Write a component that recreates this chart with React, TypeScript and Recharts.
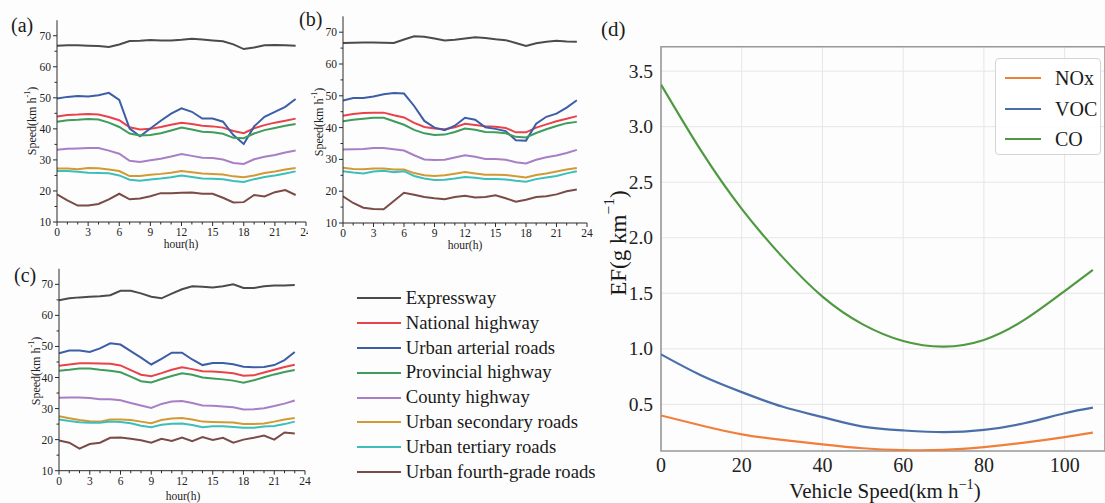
import React from 'react';
import { LineChart, Line, XAxis, YAxis, CartesianGrid, Legend, ReferenceArea } from 'recharts';

const SERIF = '"Liberation Serif", "Times New Roman", serif';
const AXIS = '#2a2a2a';

// ---------- hours ----------
const hours = [0, 1, 2, 3, 4, 5, 6, 7, 8, 9, 10, 11, 12, 13, 14, 15, 16, 17, 18, 19, 20, 21, 22, 23];
const hourTicks = [0, 1, 2, 3, 4, 5, 6, 7, 8, 9, 10, 11, 12, 13, 14, 15, 16, 17, 18, 19, 20, 21, 22, 23, 24];
const speedTicks = [10, 15, 20, 25, 30, 35, 40, 45, 50, 55, 60, 65, 70];

const roadNames = [
  'Expressway',
  'National highway',
  'Urban arterial roads',
  'Provincial highway',
  'County highway',
  'Urban secondary roads',
  'Urban tertiary roads',
  'Urban fourth-grade roads',
];
const roadKeys = ['exp', 'nat', 'art', 'prov', 'cnty', 'sec', 'ter', 'fourth'];
const roadColors = ['#4f4a4a', '#e8434a', '#3c5ea8', '#3e9c5c', '#a77fc6', '#d19a34', '#3cbfbb', '#7b4b47'];

// ---------- panel (a) ----------
const aExpressway = [66.8, 66.9, 66.9, 66.8, 66.7, 66.4, 67.2, 68.3, 68.4, 68.6, 68.5, 68.5, 68.7, 69.0, 68.8, 68.5, 68.2, 67.2, 65.7, 66.2, 66.9, 67.0, 66.9, 66.8];
const aNational = [44.0, 44.5, 44.6, 44.8, 44.6, 43.8, 42.8, 40.5, 39.8, 40.0, 40.6, 41.3, 42.0, 41.6, 41.0, 40.8, 40.4, 39.3, 38.6, 40.2, 41.2, 42.0, 42.6, 43.3];
const aArterial = [49.8, 50.3, 50.6, 50.4, 50.8, 51.6, 49.3, 40.1, 37.6, 40.1, 42.6, 44.9, 46.6, 45.5, 43.3, 43.3, 42.3, 38.0, 35.1, 40.8, 43.9, 45.5, 47.1, 49.6];
const aProvincial = [42.3, 42.8, 42.9, 43.2, 43.0, 42.0, 40.6, 38.5, 37.9, 38.0, 38.6, 39.5, 40.4, 39.8, 39.1, 38.9, 38.4, 37.1, 37.0, 38.5, 39.6, 40.3, 41.0, 41.6];
const aCounty = [33.3, 33.6, 33.7, 33.8, 33.8, 33.0, 32.0, 29.7, 29.3, 29.9, 30.4, 31.1, 31.9, 31.3, 30.7, 30.6, 30.1, 29.0, 28.7, 30.2, 31.0, 31.6, 32.4, 33.0];
const aSecondary = [27.2, 27.2, 27.0, 27.4, 27.3, 26.9, 26.4, 24.8, 24.8, 25.2, 25.5, 25.9, 26.4, 26.0, 25.6, 25.5, 25.3, 24.7, 24.4, 25.0, 25.8, 26.3, 26.9, 27.4];
const aTertiary = [26.4, 26.4, 26.2, 25.9, 25.8, 25.7, 25.0, 23.6, 23.3, 23.7, 24.0, 24.4, 25.0, 24.5, 24.0, 23.9, 23.8, 23.2, 22.9, 23.8, 24.5, 25.0, 25.6, 26.3];
const aFourth = [18.9, 17.0, 15.3, 15.3, 15.8, 17.3, 19.1, 17.3, 17.6, 18.3, 19.3, 19.3, 19.4, 19.5, 19.1, 19.1, 17.8, 16.3, 16.4, 18.7, 18.2, 19.6, 20.3, 18.7];

// ---------- panel (b) ----------
const bExpressway = [66.6, 66.7, 66.8, 66.8, 66.7, 66.6, 67.7, 68.7, 68.6, 68.0, 67.4, 67.6, 68.0, 68.4, 68.2, 67.8, 67.5, 66.6, 65.7, 66.5, 67.0, 67.3, 67.1, 67.0];
const bNational = [43.7, 44.3, 44.6, 44.7, 44.7, 43.9, 43.2, 41.5, 40.2, 39.7, 39.5, 40.1, 41.2, 40.8, 40.4, 40.3, 39.9, 38.5, 38.5, 40.0, 41.0, 42.0, 42.8, 43.6];
const bArterial = [48.5, 49.3, 49.3, 49.8, 50.5, 50.9, 50.7, 46.8, 42.1, 40.0, 39.2, 40.6, 43.1, 42.5, 40.1, 39.6, 38.9, 36.0, 35.9, 41.2, 43.4, 44.4, 46.3, 48.6];
const bProvincial = [42.0, 42.5, 42.8, 43.1, 43.1, 42.0, 40.9, 39.3, 38.2, 37.7, 37.8, 38.6, 39.7, 39.3, 38.6, 38.5, 38.2, 37.1, 36.9, 38.3, 39.5, 40.5, 41.4, 41.8];
const bCounty = [33.1, 33.2, 33.3, 33.6, 33.6, 33.2, 32.8, 31.3, 30.0, 29.8, 29.9, 30.6, 31.3, 30.8, 30.1, 30.1, 29.9, 29.1, 28.7, 29.9, 30.7, 31.2, 32.0, 33.0];
const bSecondary = [27.4, 27.0, 26.9, 27.1, 27.1, 26.8, 26.8, 25.7, 25.0, 24.8, 25.0, 25.5, 26.0, 25.6, 25.2, 25.2, 25.1, 24.7, 24.3, 25.1, 25.6, 26.2, 26.8, 27.3];
const bTertiary = [26.3, 25.9, 25.6, 26.2, 26.4, 26.0, 26.3, 24.8, 24.0, 23.5, 23.6, 24.0, 24.5, 24.2, 23.8, 23.8, 23.7, 23.3, 23.0, 23.8, 24.3, 24.8, 25.6, 26.3];
const bFourth = [18.4, 16.3, 14.8, 14.4, 14.3, 16.9, 19.5, 18.9, 18.2, 17.8, 17.5, 18.2, 18.6, 18.0, 18.2, 18.7, 17.8, 16.7, 17.3, 18.2, 18.4, 19.0, 20.0, 20.5];

// ---------- panel (c) ----------
const cExpressway = [64.9, 65.5, 65.8, 66.0, 66.2, 66.5, 67.9, 67.9, 67.1, 66.0, 65.5, 67.0, 68.4, 69.4, 69.2, 69.0, 69.4, 70.0, 68.8, 68.8, 69.4, 69.6, 69.6, 69.8];
const cNational = [43.8, 44.2, 44.6, 44.6, 44.5, 44.4, 43.9, 42.4, 40.9, 40.4, 41.4, 42.5, 43.3, 42.7, 42.0, 41.9, 41.7, 41.4, 40.6, 40.7, 41.6, 42.5, 43.4, 44.1];
const cArterial = [47.8, 48.7, 48.7, 48.2, 49.4, 51.0, 50.6, 48.5, 46.4, 44.2, 46.0, 48.0, 48.0, 45.8, 44.0, 44.7, 44.7, 44.3, 43.5, 43.3, 43.4, 44.0, 45.6, 48.2];
const cProvincial = [42.2, 42.5, 42.9, 42.9, 42.5, 42.2, 41.7, 40.3, 38.8, 38.4, 39.5, 40.5, 41.4, 40.9, 40.0, 39.7, 39.4, 39.0, 38.3, 39.1, 40.1, 41.0, 41.8, 42.4];
const cCounty = [33.5, 33.6, 33.6, 33.4, 33.0, 33.0, 32.7, 31.8, 31.0, 30.2, 31.5, 32.3, 32.4, 31.8, 31.0, 30.9, 30.7, 30.4, 29.7, 29.8, 30.1, 30.8, 31.6, 32.6];
const cSecondary = [27.5, 26.9, 26.3, 25.9, 25.8, 26.5, 26.5, 26.3, 25.8, 25.3, 26.3, 26.8, 27.0, 26.5, 25.8, 25.7, 25.6, 25.5, 25.0, 25.0, 25.2, 25.8, 26.5, 27.0];
const cTertiary = [26.5, 26.0, 25.6, 25.4, 25.4, 25.8, 25.7, 25.3, 24.5, 24.0, 24.8, 25.1, 25.2, 24.7, 24.0, 24.3, 24.3, 24.1, 23.8, 23.8, 24.2, 24.4, 25.0, 25.8];
const cFourth = [19.7, 19.0, 17.1, 18.6, 19.0, 20.6, 20.7, 20.3, 19.8, 19.0, 20.3, 19.6, 20.7, 19.5, 20.8, 19.9, 20.6, 19.0, 20.0, 20.6, 21.3, 20.0, 22.3, 22.0];

// ---------- panel (d) ----------
const vehicleSpeed = [0, 10, 20, 30, 40, 50, 60, 70, 80, 90, 100, 107];
const efNOx = [0.40, 0.31, 0.23, 0.18, 0.14, 0.105, 0.088, 0.09, 0.115, 0.155, 0.205, 0.245];
const efVOC = [0.95, 0.76, 0.61, 0.48, 0.385, 0.30, 0.265, 0.25, 0.27, 0.33, 0.42, 0.47];
const efCO = [3.38, 2.78, 2.26, 1.83, 1.47, 1.22, 1.07, 1.02, 1.08, 1.26, 1.52, 1.71];
const speedAxisTicks = [0, 20, 40, 60, 80, 100];
const efTicks = [0.5, 1.0, 1.5, 2.0, 2.5, 3.0, 3.5];
const pollutantNames = ['NOx', 'VOC', 'CO'];
const pollutantColors = ['#f07f3a', '#4a6fa8', '#4f9a40'];

const buildRoadRows = (series: number[][]) =>
  hours.map((h, i) => {
    const row: Record<string, number> = { hour: h };
    roadKeys.forEach((k, j) => {
      row[k] = series[j][i];
    });
    return row;
  });

const dataA = buildRoadRows([aExpressway, aNational, aArterial, aProvincial, aCounty, aSecondary, aTertiary, aFourth]);
const dataB = buildRoadRows([bExpressway, bNational, bArterial, bProvincial, bCounty, bSecondary, bTertiary, bFourth]);
const dataC = buildRoadRows([cExpressway, cNational, cArterial, cProvincial, cCounty, cSecondary, cTertiary, cFourth]);

const dataD = vehicleSpeed.map((v, i) => ({ v, NOx: efNOx[i], VOC: efVOC[i], CO: efCO[i] }));

// ---------- ticks ----------
const HourTick = (props: any) => {
  const { x, y, payload } = props;
  const v = payload.value;
  const major = v % 3 === 0;
  return (
    <g>
      <line x1={x} x2={x} y1={y} y2={y + (major ? 4 : 2.5)} stroke={AXIS} strokeWidth={1} />
      {major && (
        <text x={x} y={y + 14} textAnchor="middle" fontSize={11.5} fill="#222" fontFamily={SERIF}>
          {v}
        </text>
      )}
    </g>
  );
};

const SpeedTick = (props: any) => {
  const { x, y, payload } = props;
  const v = payload.value;
  const major = v % 10 === 0;
  return (
    <g>
      <line x1={x - (major ? 4 : 2.5)} x2={x} y1={y} y2={y} stroke={AXIS} strokeWidth={1} />
      {major && (
        <text x={x - 6} y={y + 4} textAnchor="end" fontSize={11.5} fill="#222" fontFamily={SERIF}>
          {v}
        </text>
      )}
    </g>
  );
};

const VSpeedTick = (props: any) => {
  const { x, y, payload } = props;
  return (
    <text x={x} y={y + 21} textAnchor="middle" fontSize={20} fill="#222" fontFamily={SERIF}>
      {payload.value}
    </text>
  );
};

const EFTick = (props: any) => {
  const { x, y, payload } = props;
  return (
    <text x={x - 8} y={y + 6.5} textAnchor="end" fontSize={19.5} fill="#222" fontFamily={SERIF}>
      {Number(payload.value).toFixed(1)}
    </text>
  );
};

const RoadLegend = () => (
  <div style={{ fontFamily: SERIF, fontSize: 18.7, color: '#1a1a1a' }}>
    {roadNames.map((n, i) => (
      <div key={n} style={{ display: 'flex', alignItems: 'center', height: 24.8, whiteSpace: 'nowrap' }}>
        <svg width={44} height={4} style={{ display: 'block' }}>
          <line x1={0} x2={44} y1={2} y2={2} stroke={roadColors[i]} strokeWidth={2} />
        </svg>
        <span style={{ marginLeft: 5, lineHeight: '24.8px' }}>{n}</span>
      </div>
    ))}
  </div>
);

const PollutantLegend = () => (
  <div
    style={{
      width: 106,
      height: 97,
      border: '1px solid #d4d4d4',
      borderRadius: 4,
      background: 'rgba(255,255,255,0.85)',
      fontFamily: SERIF,
      fontSize: 20,
      color: '#1a1a1a',
      boxSizing: 'border-box',
      paddingTop: 4,
    }}
  >
    {pollutantNames.map((n, i) => (
      <div key={n} style={{ display: 'flex', alignItems: 'center', height: 30.5 }}>
        <svg width={48} height={4} style={{ display: 'block' }}>
          <line x1={9} x2={45} y1={2} y2={2} stroke={pollutantColors[i]} strokeWidth={2.2} />
        </svg>
        <span style={{ marginLeft: 11, lineHeight: '30px' }}>{n}</span>
      </div>
    ))}
  </div>
);

type PanelProps = {
  data: Record<string, number>[];
  width: number;
  height: number;
  margin: { top: number; right: number; bottom: number; left: number };
  yWidth: number;
  withLegend?: boolean;
};

const SpeedPanel = ({ data, width, height, margin, yWidth, withLegend }: PanelProps) => (
  <LineChart width={width} height={height} data={data} margin={margin}>
    <XAxis
      dataKey="hour"
      type="number"
      domain={[0, 24]}
      ticks={hourTicks}
      interval={0}
      allowDataOverflow
      height={30}
      tickSize={0}
      tickMargin={0}
      tickLine={false}
      axisLine={{ stroke: AXIS, strokeWidth: 1 }}
      tick={<HourTick />}
    />
    <YAxis
      type="number"
      domain={[10, 75]}
      ticks={speedTicks}
      interval={0}
      allowDataOverflow
      width={yWidth}
      tickSize={0}
      tickMargin={0}
      tickLine={false}
      axisLine={{ stroke: AXIS, strokeWidth: 1 }}
      tick={<SpeedTick />}
    />
    {roadKeys.map((k, i) => (
      <Line
        key={k}
        dataKey={k}
        name={roadNames[i]}
        type="linear"
        stroke={roadColors[i]}
        strokeWidth={2}
        dot={false}
        activeDot={false}
        isAnimationActive={false}
      />
    ))}
    {withLegend && (
      <Legend
        layout="vertical"
        align="center"
        verticalAlign="middle"
        content={<RoadLegend />}
        wrapperStyle={{ left: 356.7, top: 36, width: 260, height: 200 }}
      />
    )}
  </LineChart>
);

const Sup = ({ children, size }: { children: React.ReactNode; size: number }) => (
  <tspan dy={-size * 0.45} fontSize={size * 0.68}>
    {children}
  </tspan>
);

const App = () => (
  <div style={{ position: 'absolute', left: 0, top: 0, width: 1105, height: 503, background: '#fdfdfd', overflow: 'hidden' }}>
    {/* panel (a) */}
    <div style={{ position: 'absolute', left: 0, top: 0, width: 308, height: 260, overflow: 'hidden' }}>
      <SpeedPanel data={dataA} width={320} height={260} margin={{ top: 20.2, right: 14, bottom: 8, left: 0 }} yWidth={57} />
    </div>
    {/* panel (b) */}
    <div style={{ position: 'absolute', left: 290, top: 0, width: 310, height: 260 }}>
      <SpeedPanel data={dataB} width={310} height={260} margin={{ top: 16.3, right: 13, bottom: 7, left: 0 }} yWidth={53} />
    </div>
    {/* panel (c) with legend */}
    <div style={{ position: 'absolute', left: 0, top: 250, width: 620, height: 253 }}>
      <SpeedPanel data={dataC} width={620} height={253} margin={{ top: 18.8, right: 315, bottom: 2.3, left: 0 }} yWidth={59} withLegend />
    </div>
    {/* panel (d) */}
    <div style={{ position: 'absolute', left: 590, top: 0, width: 515, height: 503 }}>
      <LineChart width={515} height={503} data={dataD} margin={{ top: 46.7, right: 0, bottom: 0, left: 0 }}>
        <CartesianGrid stroke="#e6e6e6" strokeWidth={1} />
        <XAxis
          dataKey="v"
          type="number"
          domain={[0, 110]}
          ticks={speedAxisTicks}
          interval={0}
          allowDataOverflow
          height={52}
          tickSize={0}
          tickMargin={0}
          tickLine={false}
          axisLine={false}
          tick={<VSpeedTick />}
        />
        <YAxis
          type="number"
          domain={[0.08, 3.72]}
          ticks={efTicks}
          interval={0}
          allowDataOverflow
          width={71}
          tickSize={0}
          tickMargin={0}
          tickLine={false}
          axisLine={false}
          tick={<EFTick />}
        />
        <ReferenceArea x1={0} x2={110} y1={0.08} y2={3.72} fill="none" stroke="#9a9a9a" strokeWidth={1.6} ifOverflow="visible" />
        {pollutantNames.map((n, i) => (
          <Line
            key={n}
            dataKey={n}
            name={n}
            type="natural"
            stroke={pollutantColors[i]}
            strokeWidth={2.2}
            dot={false}
            activeDot={false}
            isAnimationActive={false}
          />
        ))}
        <Legend
          layout="vertical"
          align="center"
          verticalAlign="middle"
          content={<PollutantLegend />}
          wrapperStyle={{ left: 405, top: 58, width: 108, height: 99 }}
        />
      </LineChart>
    </div>
    {/* titles & panel letters */}
    <svg width={1105} height={503} style={{ position: 'absolute', left: 0, top: 0, pointerEvents: 'none' }} fontFamily={SERIF}>
      <text x={11} y={32} fontSize={20} fill="#1a1a1a">(a)</text>
      <text x={299} y={26} fontSize={20} fill="#1a1a1a">(b)</text>
      <text x={14} y={282} fontSize={20} fill="#1a1a1a">(c)</text>
      <text x={601} y={36} fontSize={21} fill="#1a1a1a">(d)</text>

      <text transform="translate(32,121) rotate(-90)" textAnchor="middle" dominantBaseline="central" fontSize={12} fill="#222">
        Speed(km h<Sup size={12}>-1</Sup>
        <tspan dy={12 * 0.45}>)</tspan>
      </text>
      <text transform="translate(319,122) rotate(-90)" textAnchor="middle" dominantBaseline="central" fontSize={12} fill="#222">
        Speed(km h<Sup size={12}>-1</Sup>
        <tspan dy={12 * 0.45}>)</tspan>
      </text>
      <text transform="translate(36,371) rotate(-90)" textAnchor="middle" dominantBaseline="central" fontSize={12} fill="#222">
        Speed(km h<Sup size={12}>-1</Sup>
        <tspan dy={12 * 0.45}>)</tspan>
      </text>

      <text x={181} y={248} textAnchor="middle" fontSize={11.5} fill="#222">hour(h)</text>
      <text x={465} y={249} textAnchor="middle" fontSize={11.5} fill="#222">hour(h)</text>
      <text x={183} y={500} textAnchor="middle" fontSize={11.5} fill="#222">hour(h)</text>

      <text transform="translate(618,243) rotate(-90)" textAnchor="middle" dominantBaseline="central" fontSize={23} fill="#1a1a1a">
        EF(g km<Sup size={23}>−1</Sup>
        <tspan dy={23 * 0.45}>)</tspan>
      </text>
      <text x={885} y={498} textAnchor="middle" fontSize={21} fill="#1a1a1a">
        Vehicle Speed(km h<Sup size={21}>−1</Sup>
        <tspan dy={21 * 0.45}>)</tspan>
      </text>
    </svg>
  </div>
);

export default App;
